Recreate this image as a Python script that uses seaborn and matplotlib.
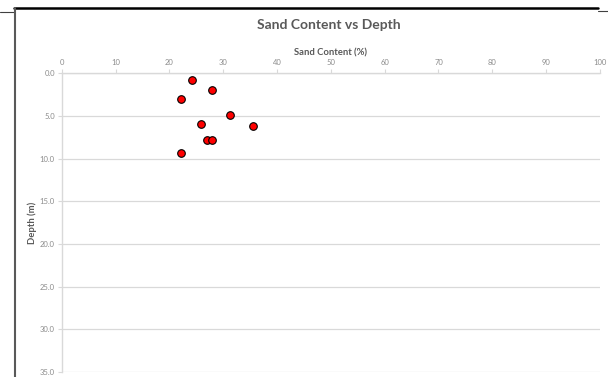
import matplotlib
matplotlib.use("Agg")
import matplotlib.pyplot as plt
import seaborn as sns
import pandas as pd
from matplotlib.lines import Line2D
from matplotlib.ticker import FormatStrFormatter

sand_content = [24.2, 27.9, 22.2, 31.3, 25.9, 35.5, 27.0, 28.0, 22.2]
depth = [0.75, 2.0, 3.0, 4.85, 5.95, 6.15, 7.8, 7.8, 9.3]
x_ticks = [0, 10, 20, 30, 40, 50, 60, 70, 80, 90, 100]
y_ticks = [0, 5, 10, 15, 20, 25, 30, 35]

df = pd.DataFrame({"Sand Content (%)": sand_content, "Depth (m)": depth})

sns.set_theme(style="white")
plt.rcParams["font.family"] = ["Lato", "DejaVu Sans"]

fig = plt.figure(figsize=(6.08, 3.77), dpi=100)
ax = fig.add_axes([0.1015, 0.0133, 0.8853, 0.7923])

sns.scatterplot(data=df, x="Sand Content (%)", y="Depth (m)", ax=ax,
                color="#ff0000", edgecolor="black", linewidth=0.8, s=30, zorder=3)

ax.set_xlim(0, 100)
ax.set_ylim(35, 0)
ax.set_xticks(x_ticks)
ax.set_yticks(y_ticks)
ax.yaxis.set_major_formatter(FormatStrFormatter("%.1f"))
ax.xaxis.tick_top()
ax.xaxis.set_label_position("top")
ax.grid(axis="y", color="#d9d9d9", linewidth=0.9)
ax.grid(axis="x", visible=False)
for side in ["right", "bottom"]:
    ax.spines[side].set_visible(False)
for side in ["top", "left"]:
    ax.spines[side].set_color("#d9d9d9")
    ax.spines[side].set_linewidth(1.0)
ax.tick_params(axis="both", which="major", labelsize=5.5, labelcolor="#8c8c8c",
               color="#d9d9d9", length=3, width=0.8, direction="out", pad=2,
               top=True, left=True, bottom=False, right=False)
ax.set_xlabel("Sand Content (%)", fontsize=6.8, fontweight="bold", color="#595959", labelpad=3)
ax.set_ylabel("Depth (m)", fontsize=6.8, fontweight="bold", color="#595959", labelpad=2)
fig.text(0.5 + 0.04, 1 - 25 / 377, "Sand Content vs Depth", ha="center", va="center",
         fontsize=10, fontweight="bold", color="#595959")

# screenshot frame lines
W, H = 608, 377
fig.add_artist(Line2D([14 / W, 598 / W], [1 - 8 / H, 1 - 8 / H], color="black", linewidth=1.8))
fig.add_artist(Line2D([598 / W, 1], [1 - 10.5 / H, 1 - 10.5 / H], color="#404040", linewidth=0.8))
fig.add_artist(Line2D([0, 14 / W], [1 - 12 / H, 1 - 12 / H], color="#404040", linewidth=0.8))
fig.add_artist(Line2D([14.5 / W, 14.5 / W], [0, 1 - 8 / H], color="#595959", linewidth=1.5))

fig.savefig("out.png", dpi=100)
